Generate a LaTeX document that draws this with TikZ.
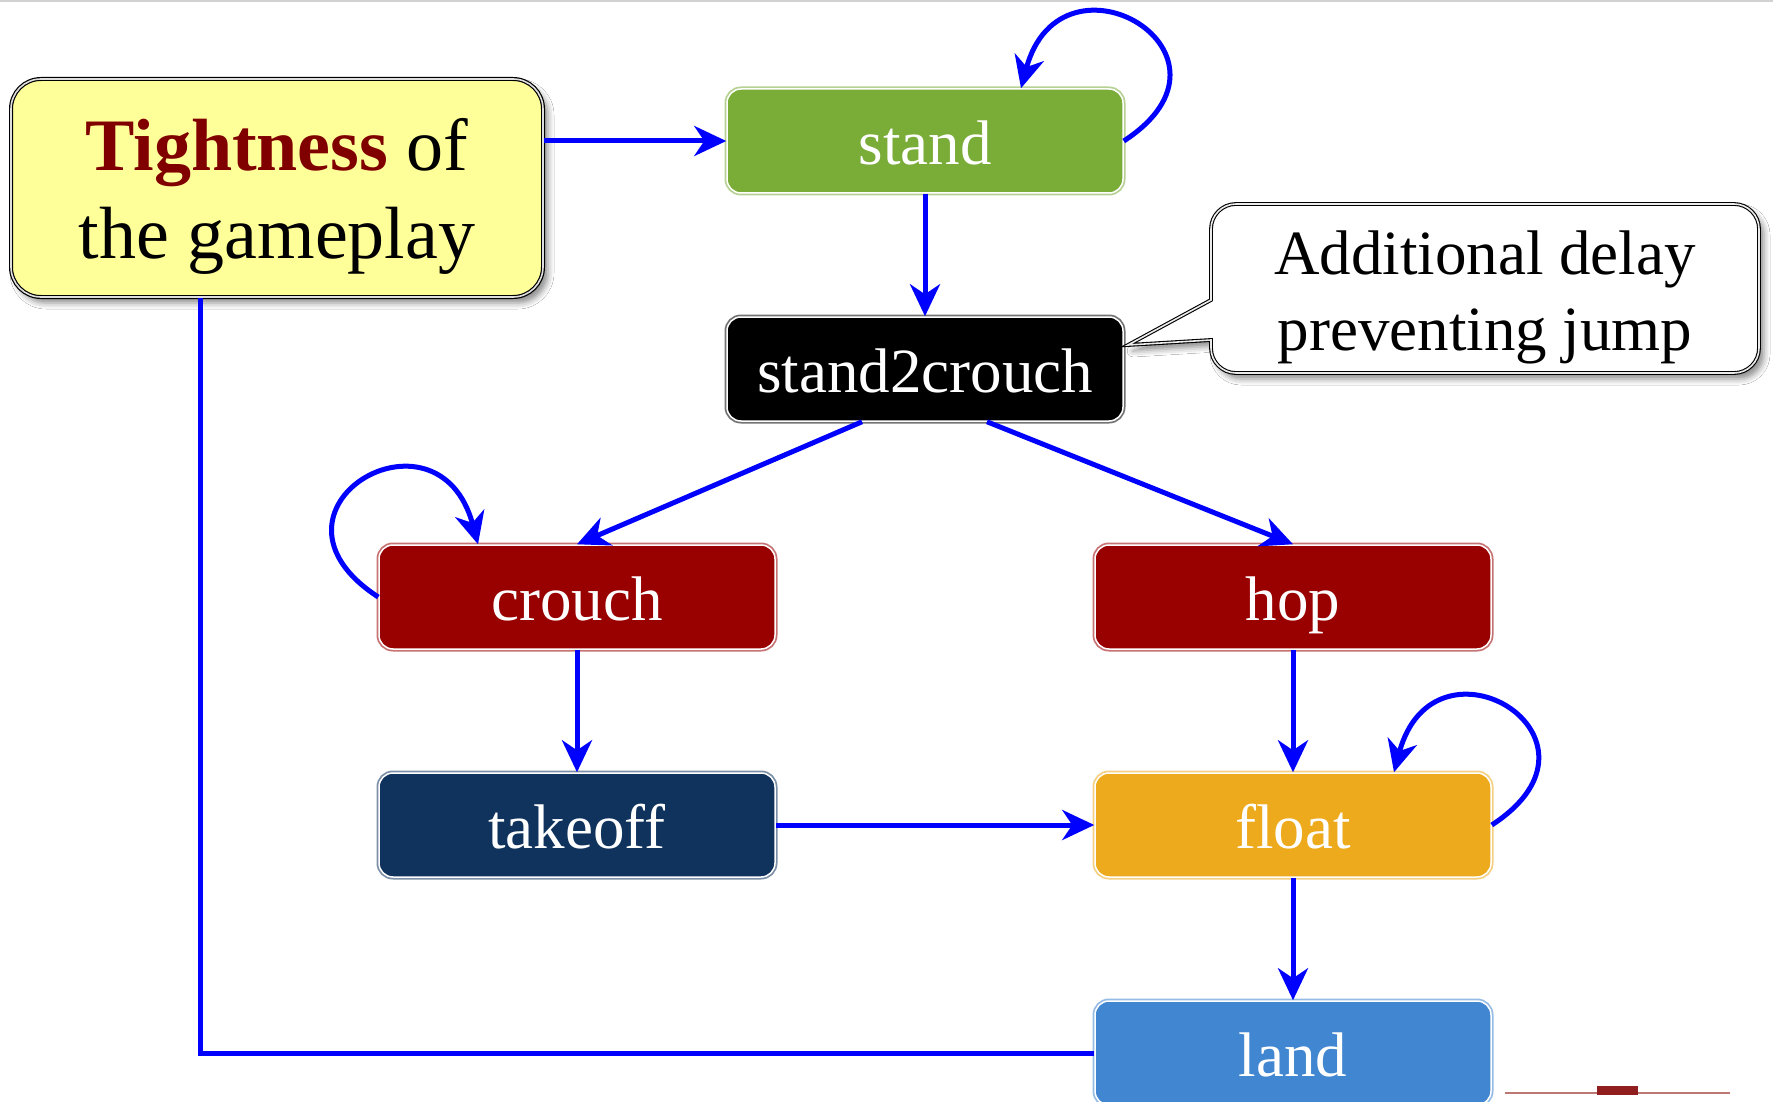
\documentclass[tikz,border=0pt]{standalone}
\usepackage{fontspec}
\setmainfont{Liberation Serif}
\usetikzlibrary{arrows.meta,shadows.blur}
\definecolor{cgreen}{RGB}{122,172,56}
\definecolor{cred}{RGB}{153,0,0}
\definecolor{cnavy}{RGB}{16,51,94}
\definecolor{corange}{RGB}{237,170,28}
\definecolor{cblue}{RGB}{65,134,208}
\definecolor{cyellow}{RGB}{255,255,153}
\definecolor{cdark}{RGB}{128,0,0}
\definecolor{edgeblue}{RGB}{0,0,255}
\definecolor{footline}{RGB}{190,120,115}
\definecolor{footmark}{RGB}{145,30,30}
\tikzset{
  state/.style={rounded corners=14pt, minimum width=396pt, minimum height=104pt,
    inner sep=0pt, text=white, font=\fontsize{63}{76}\selectfont,
    text height=47pt, text depth=0pt, fill=#1, draw=white, line width=1.5pt,
    preaction={draw=#1!55, line width=5pt}},
  tightbox/.style={rounded corners=30pt, minimum width=532pt, minimum height=218pt,
    inner sep=0pt, fill=cyellow, draw=black, double=gray!25, double distance=1.6pt,
    line width=1.2pt, align=center, font=\fontsize{74}{88}\selectfont,
    blur shadow={shadow xshift=5pt, shadow yshift=-6pt, shadow blur radius=6pt, shadow opacity=45}},
  notebox/.style={fill=white, draw=black, double=gray!15, double distance=1.6pt,
    line width=1.1pt,
    blur shadow={shadow xshift=5pt, shadow yshift=-6pt, shadow blur radius=6pt, shadow opacity=45}},
  notetext/.style={align=center, inner sep=0pt, font=\fontsize{63}{76}\selectfont},
  conn/.style={draw=edgeblue, line width=5pt, -{Stealth[length=32pt, width=30pt, inset=10pt]}},
  plainconn/.style={draw=edgeblue, line width=5pt},
}
\begin{document}
\begin{tikzpicture}[x=1pt, y=1pt]
\useasboundingbox (0,0) rectangle (1773,-1102);
\fill[white] (0,0) rectangle (1773,-1102);
\draw[gray!35, line width=2pt] (0,-1) -- (1773,-1);

% nodes
\node[tightbox] (tight) at (277,-188)
  {\rule{0pt}{68pt}\textbf{\textcolor{cdark}{Tightness}} of\\the gameplay};
\node[state=cgreen] (stand) at (925,-141) {stand};
\node[state=black] (s2c) at (925,-369) {stand2crouch};
\node[state=cred] (crouch) at (577,-597) {crouch};
\node[state=cred] (hop) at (1293,-597) {hop};
\node[state=cnavy] (takeoff) at (577,-825) {takeoff};
\node[state=corange] (float) at (1293,-825) {float};
\node[state=cblue] (land) at (1293,-1053) {land};

% callout
\draw[notebox] (1211,-300) -- (1211,-229) arc[start angle=180, end angle=90, radius=25]
  -- (1734,-204) arc[start angle=90, end angle=0, radius=25]
  -- (1759,-348) arc[start angle=0, end angle=-90, radius=25]
  -- (1236,-373) arc[start angle=270, end angle=180, radius=25]
  -- (1211,-340) -- (1128,-345) -- cycle;
\node[notetext] (note) at (1485,-297) {Additional delay\\preventing jump};

% connectors
\draw[conn] (tight.east |- stand.west) -- (stand.west);
\draw[conn] (stand.east) .. controls +(33:160) and +(75:155) .. ([xshift=96pt]stand.north);
\draw[conn] (stand.south) -- (s2c.north);
\draw[conn] ([xshift=-63pt]s2c.south) -- (crouch.north);
\draw[conn] ([xshift=62pt]s2c.south) -- (hop.north);
\draw[conn] (crouch.west) .. controls +(147:160) and +(105:155) .. ([xshift=-99pt]crouch.north);
\draw[conn] (crouch.south) -- (takeoff.north);
\draw[conn] (hop.south) -- (float.north);
\draw[conn] (takeoff.east) -- (float.west);
\draw[conn] (float.east) .. controls +(33:160) and +(75:155) .. ([xshift=101pt]float.north);
\draw[conn] (float.south) -- (land.north);
\draw[plainconn] (land.west) -| ([xshift=-77pt]tight.south);

% footer marks
\draw[footline, line width=2pt] (1505,-1093) -- (1730,-1093);
\fill[footmark] (1597,-1086) rectangle (1638,-1095);
\end{tikzpicture}
\end{document}
